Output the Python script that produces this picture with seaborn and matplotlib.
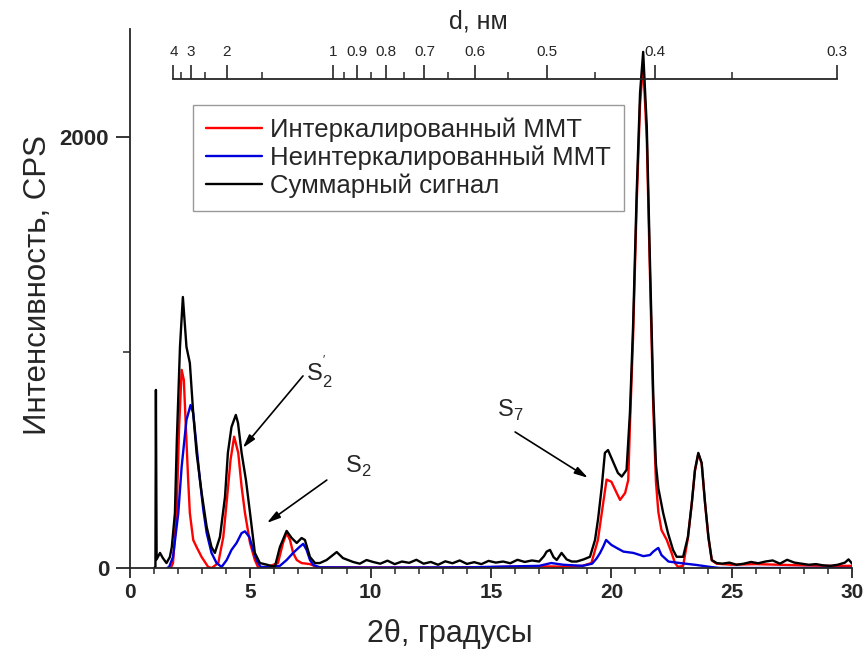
import numpy as np
import seaborn as sns
import matplotlib
matplotlib.use('Agg')
from matplotlib import pyplot as plt
from matplotlib.ticker import FixedLocator, MultipleLocator

# ------- данные --------------------------
# суммарный сигнал (черный)
tt_sum = [1.00, 1.06, 1.08, 1.11, 1.25, 1.37, 1.52, 1.66, 1.74, 1.87,
          1.95, 2.08, 2.20, 2.35, 2.49, 2.63, 2.77, 2.98, 3.19, 3.39,
          3.53, 3.74, 3.95, 4.07, 4.22, 4.40, 4.49, 4.64, 4.82, 4.99,
          5.19, 5.40, 5.70, 6.02, 6.23, 6.51, 6.72, 6.93, 7.13, 7.27,
          7.48, 7.69, 7.89, 8.17, 8.59, 8.85, 9.27, 9.55, 9.83,
          10.1, 10.4, 10.7, 11.0, 11.3, 11.6, 11.9, 12.2, 12.5, 12.8,
          13.1, 13.4, 13.7, 14.0, 14.3, 14.6, 14.9, 15.2, 15.5, 15.8,
          16.1, 16.4, 16.7, 17.0,
          17.2, 17.31, 17.45, 17.6, 17.73, 17.93, 18.14, 18.35, 18.56, 18.85,
          19.11, 19.32, 19.45, 19.6, 19.73, 19.86, 20.07, 20.27, 20.43, 20.63,
          20.77, 20.90, 21.05, 21.19, 21.32, 21.47, 21.60, 21.74, 21.85, 21.95,
          22.15, 22.35, 22.56, 22.71, 22.98, 23.18, 23.34, 23.47, 23.61, 23.75,
          23.89, 24.03, 24.17, 24.37,
          24.6, 24.9, 25.2, 25.5, 25.8, 26.1, 26.4, 26.7, 27.0, 27.3,
          27.6, 27.9, 28.2, 28.5, 28.8, 29.1, 29.4, 29.7, 29.85, 30.0]
i_sum = [0, 0, 826, 40, 70, 46, 23, 51, 97, 255,
         594, 1025, 1257, 1025, 951, 718, 533, 348, 190, 97,
         70, 144, 330, 534, 654, 710, 673, 534, 408, 255,
         70, 23, 15, 5, 97, 172, 139, 116, 139, 130,
         51, 23, 23, 37, 74, 46, 28, 20, 37,
         28, 20, 34, 18, 30, 24, 38, 20, 28, 15,
         31, 22, 35, 19, 27, 18, 33, 25, 30, 22,
         38, 28, 35, 30,
         55, 76, 84, 50, 37, 70, 40, 30, 30, 40,
         52, 130, 230, 377, 534, 547, 493, 441, 424, 455,
         720, 1120, 1740, 2204, 2394, 2048, 1429, 800, 480, 370,
         255, 162, 84, 52, 52, 145, 302, 455, 534, 487,
         302, 145, 37, 23,
         20, 25, 15, 20, 28, 22, 30, 35, 20, 38,
         25, 20, 15, 18, 12, 10, 15, 25, 40, 20]

# интеркалированный ММТ (красный)
tt_int = [1.70, 1.79, 1.94, 2.04, 2.15, 2.24, 2.33, 2.42, 2.49, 2.63,
          2.77, 2.98, 3.25, 3.40, 3.67, 3.88, 4.04, 4.18, 4.33, 4.50,
          4.64, 4.78, 4.99, 5.19, 5.32, 5.60, 6.15, 6.36, 6.51, 6.65,
          6.78, 6.93, 7.13, 7.48, 7.80, 9.0, 12.0, 15.0, 17.0, 18.0,
          18.8, 19.17, 19.44, 19.66, 19.80, 20.00, 20.22, 20.36, 20.57, 20.70,
          20.77, 20.90, 21.05, 21.19, 21.32, 21.47, 21.60, 21.74, 21.85, 21.95,
          22.08, 22.30, 22.50, 22.64, 22.77, 22.98, 23.18, 23.34, 23.47, 23.61,
          23.75, 23.89, 24.03, 24.17, 24.37, 25.0, 26.0, 27.0, 28.0, 29.0,
          30.0]
i_int = [0, 23, 255, 640, 919, 872, 640, 408, 255, 130,
         97, 51, 5, 0, 23, 144, 330, 501, 609, 534,
         377, 255, 116, 37, 5, 0, 23, 116, 162, 130,
         70, 37, 23, 18, 3, 3, 2, 4, 8, 6,
         10, 23, 130, 302, 410, 400, 348, 316, 348, 408,
         660, 1070, 1690, 2150, 2340, 1990, 1370, 740, 400, 260,
         176, 130, 70, 23, 5, 10, 140, 300, 450, 530,
         485, 300, 140, 35, 20, 15, 18, 15, 12, 10,
         10]

# неинтеркалированный ММТ (синий)
tt_non = [1.55, 1.63, 1.79, 2.01, 2.15, 2.35, 2.52, 2.63, 2.77, 2.91,
          3.05, 3.19, 3.39, 3.60, 3.81, 4.02, 4.22, 4.43, 4.64, 4.78,
          4.96, 5.12, 5.26, 5.43, 5.82, 6.23, 6.51, 6.78, 7.06, 7.20,
          7.34, 7.48, 7.62, 7.90, 10.0, 14.0, 17.0, 17.5, 18.0, 18.8,
          19.20, 19.39, 19.53, 19.66, 19.78, 20.00, 20.22, 20.50, 20.91, 21.33,
          21.60, 21.74, 21.88, 21.95, 22.08, 22.37, 22.85, 23.54, 24.10, 24.50,
          30.0]
i_non = [0, 5, 51, 255, 470, 687, 756, 718, 563, 408,
         269, 162, 70, 23, 5, 37, 84, 116, 162, 170,
         144, 84, 37, 5, 5, 10, 37, 70, 99, 112,
         84, 37, 14, 3, 2, 3, 10, 23, 15, 10,
         20, 45, 70, 99, 130, 107, 93, 76, 70, 55,
         60, 76, 88, 93, 60, 30, 23, 14, 5, 0,
         0]

series_labels = ['Интеркалированный ММТ', 'Неинтеркалированный ММТ', 'Суммарный сигнал']
series_colors = ['#ff0000', '#0000dd', '#000000']

# шкала межплоскостных расстояний
d_major = [4, 3, 2, 1, 0.9, 0.8, 0.7, 0.6, 0.5, 0.4, 0.3]
d_major_lbl = ['4', '3', '2', '1', '0.9', '0.8', '0.7', '0.6', '0.5', '0.4', '0.3']
d_minor = [3.5, 2.5, 1.5, 0.95, 0.85, 0.75, 0.65, 0.55, 0.45, 0.35]
lam = 0.15406  # нм, CuKa
shift = 0.4    # сдвиг шкалы на рисунке


def d_to_tt(d):
    return 2 * np.degrees(np.arcsin(lam / (2 * np.asarray(d, float)))) - shift


sns.set_style("ticks")
narrow = ['Liberation Sans Narrow', 'Liberation Sans', 'DejaVu Sans']
plt.rcParams['font.family'] = ['Liberation Sans', 'DejaVu Sans']
plt.rcParams['mathtext.fontset'] = 'custom'
plt.rcParams['mathtext.rm'] = 'Liberation Sans'

fig = plt.figure(figsize=(8.66, 6.61), dpi=100)
ax = fig.add_axes([0.150, 0.1407, 0.834, 0.8154])

for x, y, c, lbl in zip([tt_int, tt_non, tt_sum], [i_int, i_non, i_sum],
                        series_colors, series_labels):
    sns.lineplot(x=x, y=y, color=c, lw=1.7, label=lbl, ax=ax,
                 estimator=None, sort=False)

ax.set_xlim(0, 30)
ax.set_ylim(0, 2500)
ax.set_xticks(range(0, 31, 5))
ax.xaxis.set_minor_locator(MultipleLocator(1))
ax.set_yticks([0, 2000])
ax.yaxis.set_minor_locator(FixedLocator([1000]))
ax.spines['top'].set_visible(False)
ax.spines['right'].set_visible(False)
for s in ['left', 'bottom']:
    ax.spines[s].set_linewidth(1.3)
ax.tick_params(axis='x', which='major', direction='out', length=7, width=1.3, pad=4)
ax.tick_params(axis='x', which='minor', direction='out', length=4, width=1.1)
ax.tick_params(axis='y', which='major', direction='out', length=10, width=1.3, pad=5)
ax.tick_params(axis='y', which='minor', direction='out', length=5, width=1.1)
for t in ax.get_xticklabels():
    t.set_fontweight('bold')
    t.set_fontsize(15)
    t.set_family(narrow)
for t in ax.get_yticklabels():
    t.set_fontweight('bold')
    t.set_fontsize(16)

ax.set_xlabel('2θ, градусы', fontsize=22, family=narrow)
ax.xaxis.set_label_coords(0.443, -0.095)
ax.set_ylabel('Интенсивность, CPS', fontsize=22.5, family=narrow, labelpad=5)
ax.yaxis.label.set_y(0.525)

leg = ax.legend(loc='upper left', bbox_to_anchor=(0.087, 0.859), borderaxespad=0,
                fontsize=18.5, frameon=True, fancybox=False, edgecolor='#808080',
                handlelength=2.2, handletextpad=0.3, labelspacing=0.13, borderpad=0.5)
leg.get_frame().set_linewidth(1.0)

# подписи пиков
arrow = dict(arrowstyle='-|>,head_length=0.8,head_width=0.22', color='black',
             lw=1.2, shrinkA=0, shrinkB=0)
ax.annotate('', xy=(4.69, 557), xytext=(7.19, 891), arrowprops=arrow)
ax.annotate('', xy=(5.69, 209), xytext=(8.18, 408), arrowprops=arrow)
ax.annotate('', xy=(19.03, 418), xytext=(16.0, 631), arrowprops=arrow)
ax.text(7.3, 909, "S$_\\mathregular{2}^\\mathregular{'}$", fontsize=17, va='center')
ax.text(8.95, 473, "S$_\\mathregular{2}$", fontsize=17, va='center')
ax.text(15.25, 733, "S$_\\mathregular{7}$", fontsize=17, va='center')

# верхняя шкала d, нм
top = ax.twiny()
top.set_xlim(0, 30)
for s in ['bottom', 'left', 'right']:
    top.spines[s].set_visible(False)
top.spines['top'].set_position(('axes', 0.9077))
top.spines['top'].set_linewidth(1.3)
top.spines['top'].set_bounds(d_to_tt(4), d_to_tt(0.3))
top.set_xticks(d_to_tt(d_major))
top.set_xticklabels(d_major_lbl)
top.xaxis.set_minor_locator(FixedLocator(d_to_tt(d_minor)))
top.tick_params(axis='x', which='major', direction='out', length=10, width=1.2,
                labelsize=11, pad=4)
top.tick_params(axis='x', which='minor', direction='out', length=5, width=1.1)
top.set_xlabel('d, нм', fontsize=18, labelpad=12)
top.xaxis.label.set_x(0.482)

fig.savefig('out.png', dpi=100)
